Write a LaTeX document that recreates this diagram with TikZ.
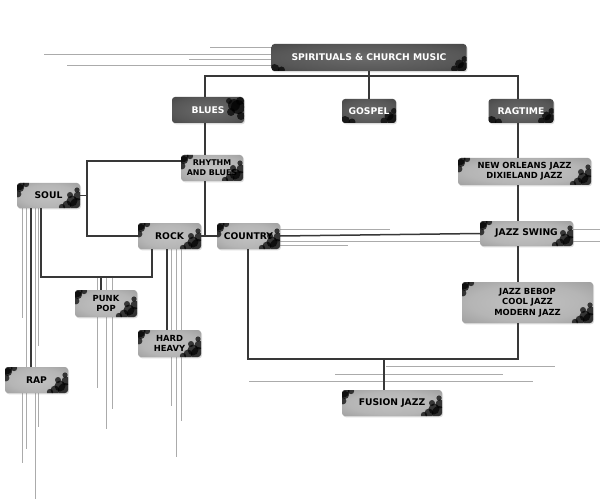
\documentclass[tikz,border=0pt]{standalone}
\usepackage{fontspec}
\setmainfont{DejaVu Sans}
\usetikzlibrary{shadows}
\pgfdeclareradialshading{boxlight}{\pgfpoint{0bp}{0bp}}{gray(0bp)=(0.76); gray(22bp)=(0.71); gray(40bp)=(0.60); gray(52bp)=(0.52); gray(72bp)=(0.46)}
\pgfdeclareradialshading{boxdark}{\pgfpoint{0bp}{0bp}}{gray(0bp)=(0.42); gray(25bp)=(0.34); gray(48bp)=(0.22); gray(72bp)=(0.16)}
\tikzset{
  box/.style={rounded corners=3pt, inner sep=0pt, align=center,
    font=\bfseries\fontsize{9.2}{10.5}\selectfont,
    drop shadow={opacity=0.28, shadow xshift=1pt, shadow yshift=-1.3pt}},
  lightbox/.style={box, shading=boxlight, text=black},
  darkbox/.style={box, shading=boxdark, text=white},
  twoline/.style={font=\bfseries\fontsize{8.4}{10.3}\selectfont},
  conn/.style={draw=black!78, line width=1.5pt},
  deco/.style={draw=black!33, line width=0.6pt},
  blot/.style={fill=black, opacity=0.7},
  inkNWSE/.style={path picture={
    \path (path picture bounding box.north west) coordinate (nw);
    \path (path picture bounding box.south east) coordinate (se);
    \fill[blot] ([shift={(1,1)}]nw) circle (6.5);
    \fill[blot] ([shift={(3,5)}]nw) circle (4);
    \fill[blot] ([shift={(9,1)}]nw) circle (3.2);
    \fill[blot] ([shift={(1,11)}]nw) circle (3.4);
    \fill[blot] ([shift={(-3,-3)}]se) circle (7);
    \fill[blot] ([shift={(-8,-7)}]se) circle (5.5);
    \fill[blot] ([shift={(-13,-3)}]se) circle (4.5);
    \fill[blot] ([shift={(-2,-12)}]se) circle (4.5);
    \fill[blot] ([shift={(-18,-1)}]se) circle (3.2);
    \fill[blot] ([shift={(-10,-13)}]se) circle (3);
    \fill[blot] ([shift={(-3,-18)}]se) circle (2.6);
  }},
  inkE/.style={path picture={
    \path (path picture bounding box.north east) coordinate (ne);
    \fill[blot] ([shift={(-6,10)}]ne) circle (7);
    \fill[blot] ([shift={(-10,8)}]ne) circle (6);
    \fill[blot] ([shift={(-4,4)}]ne) circle (4);
    \fill[blot] ([shift={(-13,15)}]ne) circle (4);
    \fill[blot] ([shift={(-3,19)}]ne) circle (4);
    \fill[blot] ([shift={(-15,4)}]ne) circle (3);
  }},
  inkSE/.style={path picture={
    \path (path picture bounding box.south east) coordinate (se);
    \path (path picture bounding box.south west) coordinate (sw);
    \fill[blot] ([shift={(-3,-3)}]se) circle (6);
    \fill[blot] ([shift={(-7,-7)}]se) circle (4.5);
    \fill[blot] ([shift={(-12,-2)}]se) circle (3.5);
    \fill[blot] ([shift={(-2,-12)}]se) circle (3);
    \fill[blot] ([shift={(3,-2)}]sw) circle (5);
    \fill[blot] ([shift={(10,-1)}]sw) circle (3.5);
  }},
}
\begin{document}
\begin{tikzpicture}[x=1pt, y=-1pt]
\useasboundingbox (0,0) rectangle (600,500);

% decorative thin lines
\draw[deco] (210,47) -- (272,47);
\draw[deco] (44,54) -- (272,54);
\draw[deco] (189,59) -- (272,59);
\draw[deco] (67,65) -- (272,65);
\draw[deco] (280,229) -- (390,229);
\draw[deco] (280,241) -- (480,241);
\draw[deco] (280,245) -- (348,245);
\draw[deco] (573,229) -- (600,229);
\draw[deco] (573,241) -- (600,241);
\draw[deco] (386,366) -- (555,366);
\draw[deco] (335,374) -- (503,374);
\draw[deco] (249,381) -- (533,381);
\draw[deco] (22,208) -- (22,318);
\draw[deco] (22,393) -- (22,463);
\draw[deco] (26,208) -- (26,449);
\draw[deco] (35,208) -- (35,499);
\draw[deco] (38,208) -- (38,346);
\draw[deco] (38,393) -- (38,427);
\draw[deco] (97,277) -- (97,388);
\draw[deco] (106,277) -- (106,429);
\draw[deco] (112,277) -- (112,409);
\draw[deco] (171,249) -- (171,406);
\draw[deco] (176,249) -- (176,457);
\draw[deco] (181,249) -- (181,421);

% nodes
\node[darkbox, inkSE, minimum width=195pt, minimum height=27pt] (sp) at (369,57.5) {SPIRITUALS \& CHURCH MUSIC};
\node[darkbox, inkE, minimum width=72pt, minimum height=26pt] (blues) at (208,110) {BLUES};
\node[darkbox, inkSE, minimum width=54pt, minimum height=24pt] (gospel) at (369,111) {GOSPEL};
\node[darkbox, inkSE, minimum width=65pt, minimum height=24pt] (ragtime) at (521,111) {RAGTIME};
\node[lightbox, inkNWSE, font=\bfseries\fontsize{7.9}{10}\selectfont, minimum width=62pt, minimum height=26pt] (rb) at (212,168) {RHYTHM\\AND BLUES};
\node[lightbox, inkNWSE, twoline, minimum width=133pt, minimum height=27pt] (noj) at (524.5,171.5) {NEW ORLEANS JAZZ\\DIXIELAND JAZZ};
\node[lightbox, inkNWSE, minimum width=63pt, minimum height=25pt] (soul) at (48.5,195.5) {SOUL};
\node[lightbox, inkNWSE, minimum width=63pt, minimum height=26pt] (rock) at (169.5,236) {ROCK};
\node[lightbox, inkNWSE, minimum width=63pt, minimum height=26pt] (country) at (248.5,236) {COUNTRY};
\node[lightbox, inkNWSE, minimum width=93pt, minimum height=25pt] (swing) at (526.5,233.5) {JAZZ SWING};
\node[lightbox, inkNWSE, twoline, minimum width=131pt, minimum height=41pt] (bebop) at (527.5,302.5) {JAZZ BEBOP\\COOL JAZZ\\MODERN JAZZ};
\node[lightbox, inkNWSE, minimum width=100pt, minimum height=26pt] (fusion) at (392,403) {FUSION JAZZ};
\node[lightbox, inkNWSE, twoline, minimum width=62pt, minimum height=27pt] (punk) at (106,303.5) {PUNK\\POP};
\node[lightbox, inkNWSE, twoline, minimum width=63pt, minimum height=27pt] (hard) at (169.5,343.5) {HARD\\HEAVY};
\node[lightbox, inkNWSE, minimum width=63pt, minimum height=26pt] (rap) at (36.5,380) {RAP};

% guide coordinates
\coordinate (bar) at (0,76);
\coordinate (vb) at (205,0);
\coordinate (vr) at (518,0);
\coordinate (vl) at (87,0);
\coordinate (hrb) at (0,161);
\coordinate (vs) at (41,0);
\coordinate (hp) at (0,277);
\coordinate (vrk) at (152,0);
\coordinate (vp) at (101,0);
\coordinate (vh) at (167,0);
\coordinate (vrap) at (31,0);
\coordinate (vc) at (248,0);
\coordinate (bot) at (0,359);
\coordinate (vf) at (384,0);

% connectors
\draw[conn] (sp.south) -- (gospel.north);
\draw[conn] (vb |- blues.north) -- (vb |- bar) -- (vr |- bar) -- (vr |- ragtime.north);
\draw[conn] (vb |- blues.south) -- (vb |- rb.north);
\draw[conn] (vb |- rb.south) -- (vb |- rock.east);
\draw[conn] (rock.east) -- (country.west);
\draw[conn] (rb.west |- hrb) -- (vl |- hrb) -- (vl |- rock.west) -- (rock.west);
\draw[conn] (soul.east) -- (vl |- soul.east);
\draw[conn] (vs |- soul.south) -- (vs |- hp) -- (vrk |- hp) -- (vrk |- rock.south);
\draw[conn] (vp |- hp) -- (vp |- punk.north);
\draw[conn] (vh |- rock.south) -- (vh |- hard.north);
\draw[conn] (vrap |- soul.south) -- (vrap |- rap.north);
\draw[conn] (country.east) -- (swing.west);
\draw[conn] (vr |- ragtime.south) -- (vr |- noj.north);
\draw[conn] (vr |- noj.south) -- (vr |- swing.north);
\draw[conn] (vr |- swing.south) -- (vr |- bebop.north);
\draw[conn] (vr |- bebop.south) -- (vr |- bot) -- (vc |- bot) -- (vc |- country.south);
\draw[conn] (vf |- bot) -- (vf |- fusion.north);
\end{tikzpicture}
\end{document}
